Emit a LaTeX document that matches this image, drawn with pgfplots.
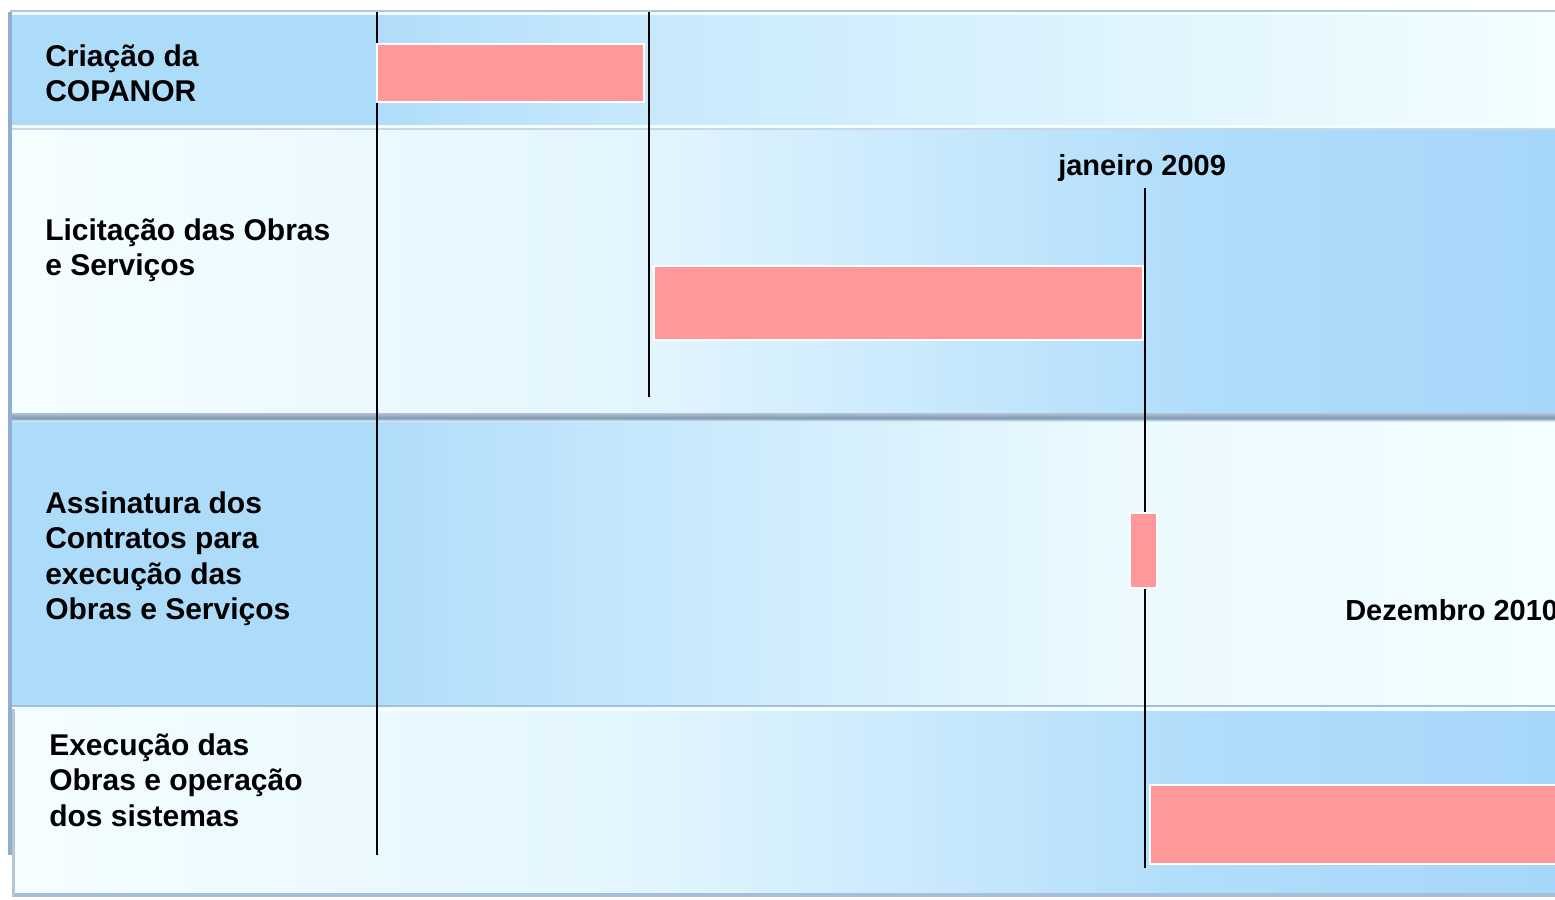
\documentclass[border=0pt]{standalone}
\usepackage{pgfplots}
\pgfplotsset{compat=1.18}
\usepackage{fontspec}
\setmainfont{Liberation Sans}
\definecolor{rowblue}{HTML}{ADDCFB}
\definecolor{barpink}{HTML}{FF9999}
\definecolor{cA}{HTML}{F5FEFF}
\definecolor{cB}{HTML}{E2F5FE}
\definecolor{cC}{HTML}{B0DDFB}
\definecolor{cD}{HTML}{A6D6F9}
\definecolor{cE}{HTML}{C8E9FC}
\definecolor{cF}{HTML}{F3FEFF}
\definecolor{cG}{HTML}{EAF9FE}
\definecolor{edge}{HTML}{8FAFD0}
\definecolor{sep}{HTML}{7F9AB5}
\begin{document}
\begin{tikzpicture}
\begin{axis}[
  scale only axis, width=1166.25pt, height=674.25pt,
  xmin=0, xmax=1555, ymin=0, ymax=899, y dir=reverse,
  axis lines=none, clip=false,
]
\coordinate (SW) at (axis cs:0,899);
\coordinate (NE) at (axis cs:1555,0);
\fill[white] (axis cs:0,0) rectangle (axis cs:1555,899);
% row 1
\fill[rowblue] (axis cs:10,12) rectangle (axis cs:377,126);
\shade[left color=cC, right color=cE] (axis cs:377,12) rectangle (axis cs:650,126);
\shade[left color=cE, right color=cF] (axis cs:649.5,12) rectangle (axis cs:1555,126);
% row 2
\shade[left color=cA, right color=cB] (axis cs:12,129) rectangle (axis cs:650,414);
\shade[left color=cB, right color=cC] (axis cs:649.5,129) rectangle (axis cs:1200,414);
\shade[left color=cC, right color=cD] (axis cs:1199.5,129) rectangle (axis cs:1555,414);
% separator
\shade[top color=sep!60, bottom color=sep] (axis cs:10,413) rectangle (axis cs:1555,418);
\shade[top color=sep, bottom color=cA] (axis cs:10,418) rectangle (axis cs:1555,422);
% row 3
\fill[rowblue] (axis cs:10,422) rectangle (axis cs:380,705);
\shade[left color=cC, right color=cG] (axis cs:379.5,422) rectangle (axis cs:1100,705);
\shade[left color=cG, right color=cF] (axis cs:1099.5,422) rectangle (axis cs:1555,705);
% row 4
\shade[left color=cA, right color=cB] (axis cs:14,709) rectangle (axis cs:650,893);
\shade[left color=cB, right color=cC] (axis cs:649.5,709) rectangle (axis cs:1200,893);
\shade[left color=cC, right color=cD] (axis cs:1199.5,709) rectangle (axis cs:1555,893);
% bevel lines
\fill[edge!70] (axis cs:10,10) rectangle (axis cs:1555,12);
\fill[cF] (axis cs:10,12) rectangle (axis cs:1555,15);
\fill[cF] (axis cs:10,125) rectangle (axis cs:1555,128);
\fill[edge!50] (axis cs:10,128) rectangle (axis cs:1555,130);
\fill[edge!80] (axis cs:10,705) rectangle (axis cs:1555,707);
\fill[cF] (axis cs:10,707) rectangle (axis cs:1555,711);
\fill[edge!80] (axis cs:14,893) rectangle (axis cs:1555,897);
\fill[edge] (axis cs:8,12) rectangle (axis cs:12,855);
\fill[edge!60!gray!60] (axis cs:12,709) rectangle (axis cs:15,897);
% milestone lines
\addplot[black, line width=1.3pt] coordinates {(377,12) (377,855)};
\addplot[black, line width=1.3pt] coordinates {(649,12) (649,397)};
\addplot[black, line width=1.3pt] coordinates {(1145,188) (1145,868)};
% task bars
\addplot[fill=barpink, draw=white, line width=1.2pt] coordinates {(377,44) (644,44) (644,102) (377,102)} -- cycle;
\addplot[fill=barpink, draw=white, line width=1.2pt] coordinates {(654,266) (1143,266) (1143,340) (654,340)} -- cycle;
\addplot[fill=barpink, draw=white, line width=1.2pt] coordinates {(1130,513) (1157,513) (1157,588) (1130,588)} -- cycle;
\addplot[fill=barpink, draw=white, line width=1.2pt] coordinates {(1150,785) (1560,785) (1560,864) (1150,864)} -- cycle;
% labels
\tikzset{lab/.style={anchor=base west, inner sep=0pt, font=\fontsize{22.5}{26.25}\selectfont\bfseries}}
\node[lab] at (axis cs:45,67) {Criação da};
\node[lab] at (axis cs:45,102) {COPANOR};
\node[lab] at (axis cs:45,240) {Licitação das Obras};
\node[lab] at (axis cs:45,275) {e Serviços};
\node[lab] at (axis cs:45,513) {Assinatura dos};
\node[lab] at (axis cs:45,548) {Contratos para};
\node[lab] at (axis cs:45,584) {execução das};
\node[lab] at (axis cs:45,619) {Obras e Serviços};
\node[lab] at (axis cs:49,755) {Execução das};
\node[lab] at (axis cs:49,790) {Obras e operação};
\node[lab] at (axis cs:49,826) {dos sistemas};
\node[anchor=base west, inner sep=0pt, font=\fontsize{21.75}{26}\selectfont\bfseries] at (axis cs:1058,175) {janeiro 2009};
\node[anchor=base west, inner sep=0pt, font=\fontsize{21.75}{26}\selectfont\bfseries] at (axis cs:1345,620) {Dezembro 2010};
\end{axis}
\pgfresetboundingbox
\path[use as bounding box] (SW) rectangle (NE);
\end{tikzpicture}
\end{document}
